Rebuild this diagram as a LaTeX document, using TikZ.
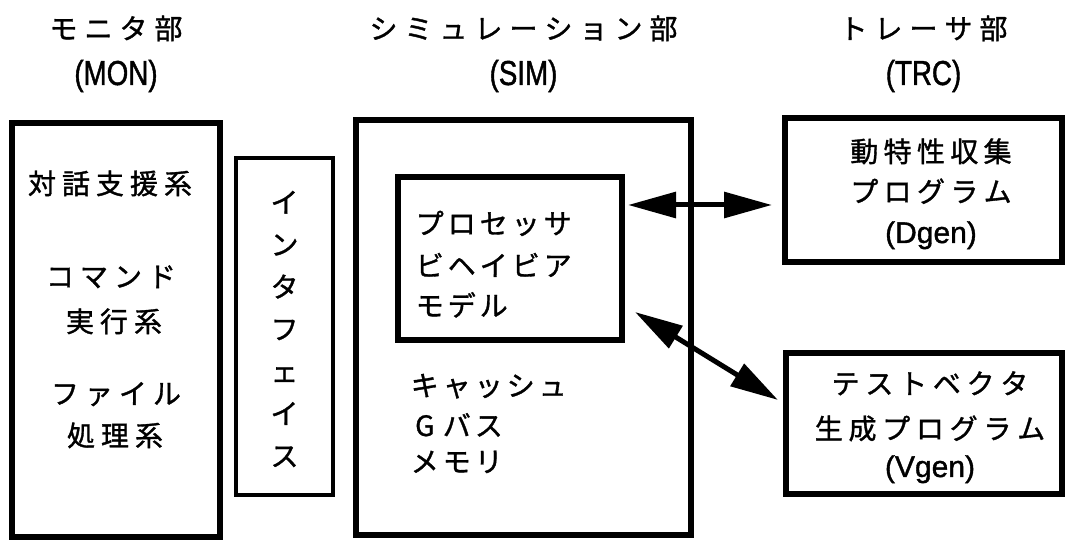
\documentclass[tikz,border=0pt]{standalone}
\usepackage{fontspec}
\usetikzlibrary{arrows.meta}
\newfontfamily\jp[FakeBold=1.2]{Noto Sans CJK JP}
\newfontfamily\latH[FakeStretch=0.8,FakeBold=1.2]{Liberation Sans}
\newfontfamily\lat[FakeBold=1.2]{Liberation Sans}
\ExplSyntaxOn
\NewDocumentCommand\spc{mm}{\tl_map_inline:nn{#2}{\makebox[#1]{##1}}}
\ExplSyntaxOff
\newcommand\pu{0.75pt}
\tikzset{
  box/.style={draw, rectangle, line width=5pt, inner sep=0pt, outer sep=0pt},
  thinbox/.style={box, line width=3.5pt},
  jt/.style={font=\jp\fontsize{21pt}{25pt}\selectfont, inner sep=0pt, anchor=base},
  jl/.style={jt, anchor=base west},
  lh/.style={font=\latH\fontsize{26pt}{30pt}\selectfont, inner sep=0pt, anchor=base},
  lb/.style={font=\lat\fontsize{22.5pt}{27pt}\selectfont, inner sep=0pt, anchor=base},
  link/.style={line width=3.75pt, {Triangle[length=36pt,width=19pt]}-{Triangle[length=36pt,width=19pt]}}
}
\begin{document}
\begin{tikzpicture}[x=0.75pt, y=-0.75pt]
\useasboundingbox (0,0) rectangle (1068,541);
% boxes
\node[box, minimum width=208*\pu, minimum height=414*\pu] (mon) at (116,330) {};
\node[thinbox, minimum width=97*\pu, minimum height=337*\pu] (if) at (284.5,326.5) {};
\node[box, minimum width=335*\pu, minimum height=415*\pu] (sim) at (523.5,327.5) {};
\node[box, minimum width=224*\pu, minimum height=163*\pu] (inner) at (510,258.5) {};
\node[box, minimum width=277*\pu, minimum height=144*\pu] (dgen) at (923.5,190) {};
\node[box, minimum width=276*\pu, minimum height=141*\pu] (vgen) at (924,423.5) {};
% headers
\node[jt] (monT) at (116,39) {\spc{26.25pt}{モニタ部}};
\node[lh] (monL) at (116,85) {(MON)};
\node[jt] (simT) at (523.5,39) {\spc{26.25pt}{シミュレーション部}};
\node[lh] (simL) at (523.5,85) {(SIM)};
\node[jt] (trcT) at (923.5,39) {\spc{26.25pt}{トレーサ部}};
\node[lh] (trcL) at (923.5,85) {(TRC)};
% monitor
\node[jt] (m1) at (110,194) {\spc{25.5pt}{対話支援系}};
\node[jt] (m2) at (111,287) {\spc{25.5pt}{コマンド}};
\node[jt] (m3) at (114,332) {\spc{25.5pt}{実行系}};
\node[jt] (m4) at (116,404) {\spc{25.5pt}{ファイル}};
\node[jt] (m5) at (115,446) {\spc{25.5pt}{処理系}};
% interface
\node[font=\jp\fontsize{21pt}{31.7pt}\selectfont, inner sep=0pt, align=center] (ift) at (284.5,329) {イ\\ン\\タ\\フ\\ェ\\イ\\ス};
% simulation
\node[jl] (p1) at (413.5,234) {\spc{24pt}{プロセッサ}};
\node[jl] (p2) at (413.5,276) {\spc{24pt}{ビヘイビア}};
\node[jl] (p3) at (413.5,316) {\spc{24pt}{モデル}};
\node[jl] (s1) at (408.5,396) {\spc{24pt}{キャッシュ}};
\node[jl] (s2) at (408.5,436) {\spc{24pt}{Gバス}};
\node[jl] (s3) at (408.5,472) {\spc{24pt}{メモリ}};
% tracer
\node[jt] (d1) at (931,162) {\spc{25pt}{動特性収集}};
\node[jt] (d2) at (931,202) {\spc{25pt}{プログラム}};
\node[lb] (d3) at (931,243) {(Dgen)};
\node[jt] (v1) at (930,394) {\spc{25.3pt}{テストベクタ}};
\node[jt] (v2) at (930,439) {\spc{25.3pt}{生成プログラム}};
\node[lb] (v3) at (930,477) {(Vgen)};
% connectors
\draw[link] ([shift={(6,-53.5)}]inner.east) -- ([shift={(-13,15)}]dgen.west);
\draw[link] ([shift={(13,-28)}]inner.south east) -- ([shift={(-8,-23.5)}]vgen.west);
\end{tikzpicture}
\end{document}
